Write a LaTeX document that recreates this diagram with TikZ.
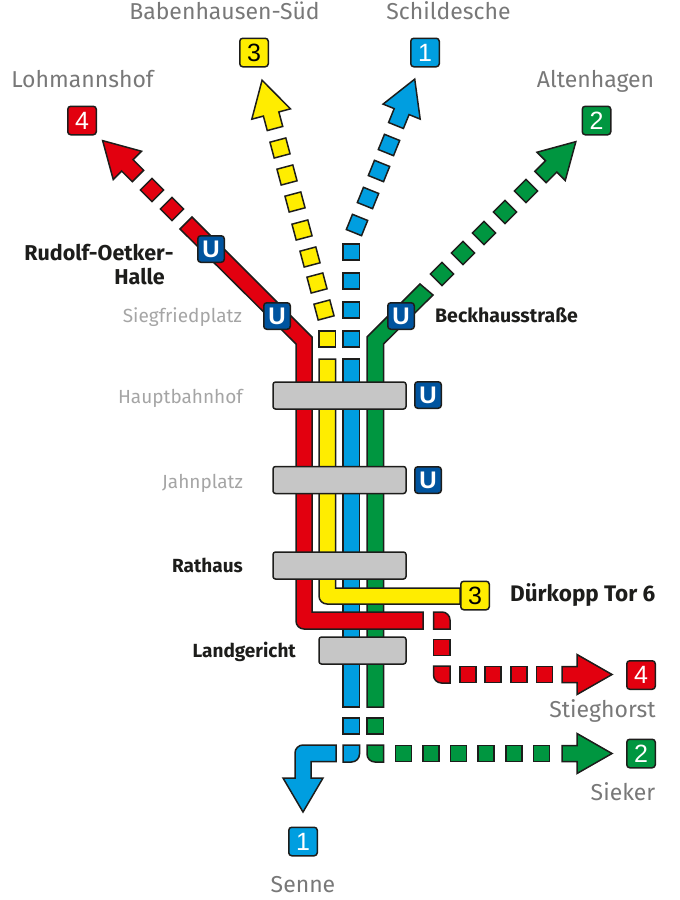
\documentclass[tikz,border=0pt]{standalone}
\usepackage{fontspec}
\setmainfont{Fira Sans}
\newfontfamily\tilefont{Liberation Sans}
\definecolor{linered}{RGB}{226,0,15}
\definecolor{lineyellow}{RGB}{255,237,0}
\definecolor{lineblue}{RGB}{0,158,224}
\definecolor{linegreen}{RGB}{0,150,64}
\definecolor{ubahnblue}{RGB}{0,84,159}
\definecolor{stationgrey}{RGB}{198,198,198}
\definecolor{darkedge}{RGB}{29,29,27}
\definecolor{farlabel}{RGB}{120,120,120}
\definecolor{lightlabel}{RGB}{165,165,165}
\tikzset{
  linebody/.style={draw=darkedge, line width=1.5pt, line join=miter},
  linetile/.style={linebody, minimum size=16.4pt, inner sep=0pt, outer sep=0pt},
  numtile/.style={draw=darkedge, line width=1.5pt, rounded corners=3pt, minimum size=28.5pt, inner sep=0pt,
    font=\tilefont\fontsize{25}{25}\selectfont},
  utile/.style={numtile, fill=ubahnblue, text=white, minimum size=26.5pt,
    font=\tilefont\bfseries\fontsize{24}{24}\selectfont},
  station/.style={draw=darkedge, fill=stationgrey, line width=1.5pt, rounded corners=2.5pt},
  farname/.style={text=farlabel, inner sep=0pt, anchor=base, font=\fontsize{23}{23}\selectfont},
  stopname/.style={text=lightlabel, inner sep=0pt, anchor=base east, font=\fontsize{19}{19}\selectfont},
  boldname/.style={text=darkedge, inner sep=0pt, font=\bfseries\fontsize{19}{19}\selectfont},
  linearrow/.pic={
    \path[pic actions] (0,-8) -- (15,-8) -- (15,-20) -- (50,0) -- (15,20) -- (15,8) -- (0,8) -- cycle;
  }
}
\begin{document}
\begin{tikzpicture}[x=1pt, y=-1pt]
  \useasboundingbox (0,0) rectangle (680,900);

  % Blue line
  \draw[linebody, fill=lineblue] (343,359) -- (359.5,359) -- (359.5,707) -- (343,707) -- cycle;
  \foreach \y [count=\i] in {339,310,281,252}
    \node[linetile, fill=lineblue] (bluetile\i) at (351.2,\y) {};
  \foreach \x/\y [count=\i] in {357/225, 368/198, 379/171, 389/145}
    \node[linetile, fill=lineblue, rotate=-22] (bluefar\i) at (\x,\y) {};
  \pic[linebody, fill=lineblue, rotate=68] at (396,125.5) {linearrow};
  \node[linetile, fill=lineblue] (bluelow) at (351.2,726) {};
  \draw[linebody, fill=lineblue] (343,745) -- (359.5,745) [rounded corners=8pt] -- (359.5,762) [sharp corners] -- (343,762) -- cycle;
  \draw[linebody, fill=lineblue] (336,745) -- (336,761.5) -- (311,761.5) -- (311,778) -- (323,778)
    -- (303,812) -- (283,778) -- (295,778) [rounded corners=8pt] -- (295,745) [sharp corners] -- cycle;

  % Green line
  \draw[linebody, fill=linegreen] (420,284) -- (433,295) -- (383.5,344) -- (383.5,707) -- (367,707) -- (367,337) -- cycle;
  \foreach \x/\y [count=\i] in {442/274, 463/253, 484/233, 505/212, 526/191}
    \node[linetile, fill=linegreen, rotate=45] (greenfar\i) at (\x,\y) {};
  \pic[linebody, fill=linegreen, rotate=45] at (540.5,177) {linearrow};
  \node[linetile, fill=linegreen] (greenlow) at (375.2,726) {};
  \draw[linebody, fill=linegreen] (383.5,745) -- (383.5,762) [rounded corners=8pt] -- (367,762) [sharp corners] -- (367,745) -- cycle;
  \foreach \x [count=\i] in {403.5,431,458.5,486,514,541.5}
    \node[linetile, fill=linegreen] (greeneast\i) at (\x,753.5) {};
  \pic[linebody, fill=linegreen] at (562,753.5) {linearrow};

  % Yellow line
  \draw[linebody, fill=lineyellow] (319,359) -- (335.5,359) -- (335.5,588) -- (460,588) -- (460,604)
    [rounded corners=8pt] -- (319,604) [sharp corners] -- cycle;
  \node[linetile, fill=lineyellow] (yellowtile) at (327.2,339) {};
  \foreach \x/\y [count=\i] in {324/310, 317/283, 310/257, 302/230, 295/202, 287/175, 280/148}
    \node[linetile, fill=lineyellow, rotate=15] (yellowfar\i) at (\x,\y) {};
  \pic[linebody, fill=lineyellow, rotate=105] at (275,128.5) {linearrow};

  % Red line
  \draw[linebody, fill=linered] (180,229) -- (192,217) -- (312,337) -- (312,612) -- (423,612) -- (423,629)
    [rounded corners=8pt] -- (296,629) [sharp corners] -- (296,344) -- cycle;
  \foreach \x/\y [count=\i] in {172/209, 152/190}
    \node[linetile, fill=linered, rotate=45] (redfar\i) at (\x,\y) {};
  \pic[linebody, fill=linered, rotate=135] at (138,176) {linearrow};
  \draw[linebody, fill=linered] (433.5,612) [rounded corners=8pt] -- (450,612) [sharp corners] -- (450,629) -- (433.5,629) -- cycle;
  \node[linetile, fill=linered] (redsouth) at (441.8,647.5) {};
  \draw[linebody, fill=linered] (450,666) -- (450,683) [rounded corners=8pt] -- (433.5,683) [sharp corners] -- (433.5,666) -- cycle;
  \foreach \x [count=\i] in {468,493,519,544.5}
    \node[linetile, fill=linered] (redeast\i) at (\x,674.5) {};
  \pic[linebody, fill=linered] at (562,674.5) {linearrow};

  % Stations
  \node[station, minimum width=133pt, minimum height=27pt, inner sep=0pt] (hauptbahnhof) at (339.5,395.5) {};
  \node[station, minimum width=133pt, minimum height=27pt, inner sep=0pt] (jahnplatz) at (339.5,480) {};
  \node[station, minimum width=133pt, minimum height=27pt, inner sep=0pt] (rathaus) at (339.5,565.5) {};
  \node[station, minimum width=87pt, minimum height=27pt, inner sep=0pt] (landgericht) at (362.5,650.5) {};

  % U-Bahn marks
  \foreach \x/\y/\name in {211/249/rudolf, 277/316/siegfried, 401/316/beckhaus, 428/395/hbf, 428/480/jahn}
    \node[utile] (u\name) at (\x,\y) {U};

  % Line numbers
  \node[numtile, fill=linered, text=white] (num4n) at (82,120.5) {4};
  \node[numtile, fill=lineyellow] (num3n) at (254,52.5) {3};
  \node[numtile, fill=lineblue, text=white] (num1n) at (425,52.5) {1};
  \node[numtile, fill=linegreen, text=white] (num2n) at (596.5,120.5) {2};
  \node[numtile, fill=lineyellow] (num3s) at (475,595.5) {3};
  \node[numtile, fill=linered, text=white] (num4s) at (641,675) {4};
  \node[numtile, fill=linegreen, text=white] (num2s) at (641,753.5) {2};
  \node[numtile, fill=lineblue, text=white] (num1s) at (303,841.5) {1};

  % Terminus names
  \node[farname] (lohmannshof) at (82.5,87) {Lohmannshof};
  \node[farname] (babenhausen) at (224.5,19) {Babenhausen-Süd};
  \node[farname] (schildesche) at (448.5,19) {Schildesche};
  \node[farname] (altenhagen) at (595.5,87) {Altenhagen};
  \node[farname] (stieghorst) at (602.5,717) {Stieghorst};
  \node[farname] (sieker) at (623,800) {Sieker};
  \node[farname] (senne) at (303,892) {Senne};

  % Stop names
  \node[stopname] (nsiegfried) at (242,322) {Siegfriedplatz};
  \node[stopname] (nhaupt) at (243,403) {Hauptbahnhof};
  \node[stopname] (njahn) at (243,488) {Jahnplatz};
  \node[boldname, anchor=base east] (nrathaus) at (243,572) {Rathaus};
  \node[boldname, anchor=base east] (nland) at (296,657) {Landgericht};
  \node[boldname, font=\bfseries\fontsize{19.5}{19.5}\selectfont, anchor=base west] (nbeck) at (435,322) {Beckhausstraße};
  \node[boldname, font=\bfseries\fontsize{21.5}{24}\selectfont, align=right, anchor=east] (nrudolf) at (165,265) {Rudolf-Oetker\rlap{-}\\Halle};
  \node[boldname, font=\bfseries\fontsize{22.5}{22.5}\selectfont, anchor=base west] (nduerkopp) at (510,601) {Dürkopp Tor 6};
\end{tikzpicture}
\end{document}
